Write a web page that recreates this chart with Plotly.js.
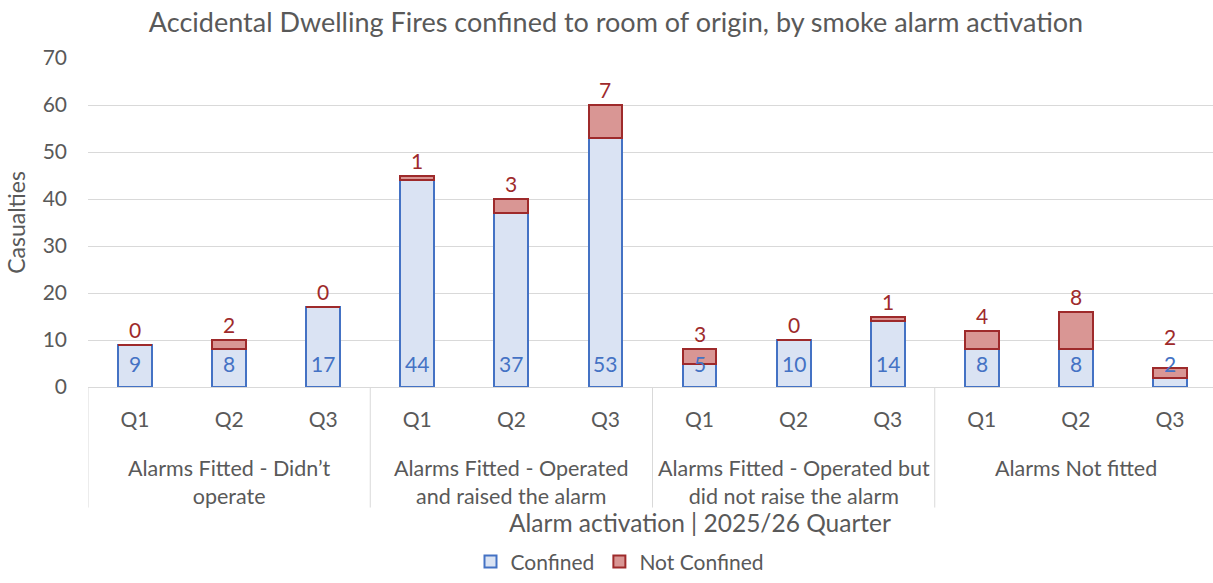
<!DOCTYPE html>
<html>
<head>
<meta charset="utf-8">
<script src="https://cdn.plot.ly/plotly-3.0.1.min.js"></script>
<style>html,body{margin:0;padding:0;background:#fff;overflow:hidden}#chart{width:1217px;height:583px}</style>
</head>
<body>
<div id="chart"></div>
<script>
const groups = [
  "Alarms Fitted - Didn’t<br>operate",
  "Alarms Fitted - Operated<br>and raised the alarm",
  "Alarms Fitted - Operated but<br>did not raise the alarm",
  "Alarms Not fitted"
];
const quarters = ["Q1", "Q2", "Q3"];
const confined = [9, 8, 17, 44, 37, 53, 5, 10, 14, 8, 8, 2];
const notConfined = [0, 2, 0, 1, 3, 7, 3, 0, 1, 4, 8, 2];

const FONT = "Lato";
const GREY = "#595959";
const BLUE_EDGE = "#4472c4";
const RED_EDGE = "#9e2a2b";

const W = 1217, H = 583;
const M = {l: 88, r: 0, t: 58, b: 192};
const Y_MAX = 70;
const plotH = H - M.t - M.b;
const plotW = W - M.l - M.r;
const pxPerUnit = plotH / Y_MAX;
const paperY = px => (M.t + plotH - px) / plotH;   // page pixel row -> paper y

// category keys (one per bar) and their display ticks
const cats = [];
const tickText = [];
groups.forEach((g, gi) => quarters.forEach(q => { cats.push(gi + "|" + q); tickText.push(q); }));
const totals = confined.map((v, i) => v + notConfined[i]);

const traces = [
  {
    type: "bar", name: "Confined", x: cats, y: confined,
    marker: {color: "#dae3f3", line: {color: BLUE_EDGE, width: 2}},
    hoverinfo: "y"
  },
  {
    type: "bar", name: "Not Confined", x: cats, y: notConfined,
    marker: {color: "#d99694", line: {color: RED_EDGE, width: 2}},
    hoverinfo: "y"
  }
];

const annotations = [];
// confined labels: "inside base"
cats.forEach((c, i) => annotations.push({
  x: c, y: 0, xref: "x", yref: "y", text: String(confined[i]), showarrow: false,
  yanchor: "bottom", yshift: 9, font: {family: FONT, size: 21, color: BLUE_EDGE}
}));
// not confined labels: above the stack, nudged clear of the confined label
cats.forEach((c, i) => {
  const topPx = totals[i] * pxPerUnit;
  annotations.push({
    x: c, y: totals[i], xref: "x", yref: "y", text: String(notConfined[i]), showarrow: false,
    yanchor: "bottom", yshift: Math.max(1, 36 - topPx), font: {family: FONT, size: 21, color: RED_EDGE}
  });
});
// group labels (second level of the category axis)
groups.forEach((g, gi) => annotations.push({
  x: gi * quarters.length + (quarters.length - 1) / 2, y: paperY(458),
  xref: "x", yref: "paper",
  text: g, showarrow: false, xanchor: "center", yanchor: "top", align: "center",
  font: {family: FONT, size: 21.5, color: GREY}
}));
// x axis title
annotations.push({
  text: "Alarm activation | 2025/26 Quarter", xref: "paper", yref: "paper",
  x: (700 - M.l) / plotW, y: paperY(528),
  xanchor: "center", yanchor: "middle", showarrow: false,
  font: {family: FONT, size: 24.5, color: GREY}
});

// group dividers
const shapes = [];
for (let gi = 0; gi < groups.length; gi++) {
  const xb = gi * quarters.length - 0.5;
  shapes.push({type: "line", xref: "x", yref: "paper", x0: xb, x1: xb, y0: 0, y1: paperY(513),
               line: {color: "#d9d9d9", width: 1}});
}

const layout = {
  width: W, height: H, margin: M,
  paper_bgcolor: "#fff", plot_bgcolor: "#fff",
  font: {family: FONT, color: GREY, size: 20},
  barmode: "stack", bargap: 0.64,
  showlegend: true,
  title: {text: "Accidental Dwelling Fires confined to room of origin, by smoke alarm activation",
          font: {family: FONT, size: 27, color: GREY}, x: 616 / W, xanchor: "center", y: 1 - 23 / H, yanchor: "middle"},
  xaxis: {
    type: "category", categoryorder: "array", categoryarray: cats,
    tickvals: cats, ticktext: tickText, range: [-0.5, cats.length - 0.5],
    showgrid: false, showline: true, linecolor: "#d9d9d9", linewidth: 1,
    ticks: "", ticklabelstandoff: 14, tickfont: {family: FONT, size: 21, color: GREY}
  },
  yaxis: {
    range: [0, Y_MAX], dtick: 10, showgrid: true, gridcolor: "#d9d9d9", gridwidth: 1,
    zeroline: false, showline: false, ticks: "", ticklabelstandoff: 20,
    tickfont: {family: FONT, size: 21, color: GREY},
    title: {text: "Casualties", font: {family: FONT, size: 23, color: GREY}, standoff: 10}
  },
  legend: {orientation: "h", x: (620 - M.l) / plotW, xanchor: "center", y: paperY(568), yanchor: "middle",
           font: {family: FONT, size: 21, color: GREY}, traceorder: "normal"},
  annotations: annotations,
  shapes: shapes
};

Plotly.newPlot("chart", traces, layout, {displayModeBar: false, staticPlot: true});
</script>
</body>
</html>
